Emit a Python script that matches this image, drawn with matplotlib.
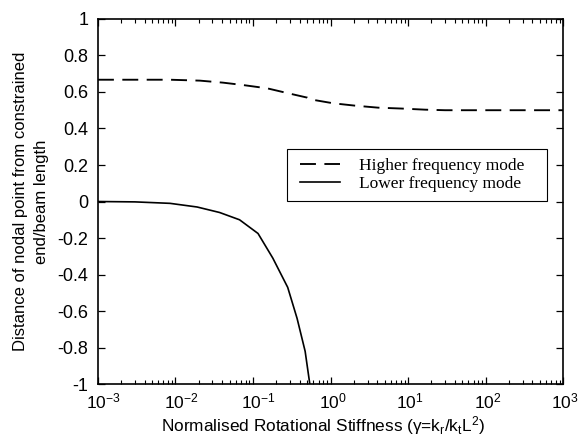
import math
import matplotlib
matplotlib.use("Agg")
import matplotlib.pyplot as plt
from matplotlib.ticker import LogLocator, FuncFormatter
from matplotlib.patches import Rectangle
from matplotlib.transforms import Affine2D

# Data
stiffness_high = [1e-3, 3e-3, 0.0085, 0.0207, 0.041, 0.074, 0.152, 0.283, 0.50, 0.54,
                  1.08, 2.07, 4.1, 8.4, 16.6, 30, 100, 1000]
nodal_high = [0.667, 0.667, 0.667, 0.662, 0.651, 0.638, 0.620, 0.593, 0.569, 0.560,
              0.538, 0.525, 0.514, 0.509, 0.503, 0.500, 0.500, 0.500]

stiffness_low = [1e-3, 3e-3, 0.0085, 0.019, 0.037, 0.067, 0.116, 0.18, 0.28, 0.37, 0.47, 0.54]
nodal_low = [0.0, -0.002, -0.01, -0.03, -0.06, -0.10, -0.175, -0.31, -0.47, -0.64, -0.82, -1.0]

y_ticks = [-1, -0.8, -0.6, -0.4, -0.2, 0, 0.2, 0.4, 0.6, 0.8, 1]
legend_labels = ["Higher frequency mode", "Lower frequency mode"]
x_label = r"Normalised Rotational Stiffness (γ=k$_{\rm r}$/k$_{\rm t}$L$^{2}$)"
y_label = "Distance of nodal point from constrained\nend/beam length"

plt.rcParams['font.family'] = ['Liberation Sans', 'DejaVu Sans']
plt.rcParams['mathtext.fontset'] = 'custom'
plt.rcParams['mathtext.rm'] = 'Liberation Sans'
plt.rcParams['mathtext.it'] = 'Liberation Sans:italic'
plt.rcParams['mathtext.sf'] = 'Liberation Sans'
plt.rcParams['axes.unicode_minus'] = False

fig = plt.figure(figsize=(5.83, 4.40), dpi=100)
ax = fig.add_axes([0.168, 0.127, 0.798, 0.830])

l1, = ax.plot(stiffness_high, nodal_high, color='black', lw=1.35)
l1.set_dashes((8.5, 4.5))
l2, = ax.plot(stiffness_low, nodal_low, color='black', lw=1.2)

ax.set_xscale('log')
ax.set_xlim(1e-3, 1e3)
ax.set_ylim(-1, 1)
ax.set_yticks(y_ticks)
ax.yaxis.set_major_formatter(FuncFormatter(lambda v, p: "%g" % round(v, 2)))
ax.xaxis.set_major_locator(LogLocator(base=10, numticks=10))
ax.xaxis.set_minor_locator(LogLocator(base=10, subs=range(2, 10), numticks=100))
ax.xaxis.set_major_formatter(FuncFormatter(lambda v, p: r"$10^{%d}$" % round(math.log10(v))))

ax.tick_params(which='both', direction='in', top=True, right=True, colors='black')
ax.tick_params(which='major', length=5, width=0.9)
ax.tick_params(which='minor', length=3, width=0.8)
ax.tick_params(axis='y', labelsize=13, pad=7)
ax.tick_params(axis='x', labelsize=12.5, pad=5)
for s in ax.spines.values():
    s.set_linewidth(1.2)

ax.set_xlabel(x_label, fontsize=12.4, labelpad=2)
ax.xaxis.label.set_x(0.484)
ax.set_ylabel(y_label, fontsize=12, labelpad=6, linespacing=1.45)

# legend frame box
ax.add_patch(Rectangle((0.4065, 0.5014), 0.9656 - 0.4065, 0.6438 - 0.5014,
                       transform=ax.transAxes, facecolor='white', edgecolor='black',
                       lw=0.8, zorder=4))
leg = ax.legend([l1, l2], legend_labels, loc='center left', bbox_to_anchor=(0.434, 0.5726),
                borderaxespad=0, borderpad=0, frameon=False,
                handlelength=2.3, handletextpad=1.1,
                prop={'family': 'Liberation Serif', 'size': 12.5},
                labelspacing=0.12)
leg.set_zorder(5)

# centre the "10" base of each x tick label on its tick (exponent hangs right)
fig.canvas.draw()
renderer = fig.canvas.get_renderer()
probe = fig.text(0, 0, "10", fontsize=12.5)
base_w = probe.get_window_extent(renderer).width
probe.remove()
for lab in ax.get_xticklabels():
    if lab.get_text():
        w = lab.get_window_extent(renderer).width
        dx = (w - base_w) / 2.0 - 2.0
        lab.set_transform(lab.get_transform() + Affine2D().translate(dx, 0))

fig.savefig("out.png", dpi=100)
